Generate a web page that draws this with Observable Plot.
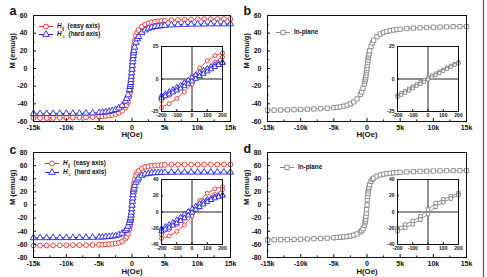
<!DOCTYPE html>
<html><head><meta charset="utf-8">
<script src="https://cdn.jsdelivr.net/npm/d3@7"></script>
<script src="https://cdn.jsdelivr.net/npm/@observablehq/plot@0.6"></script>
<style>
html,body{margin:0;padding:0;background:#fff;}
#fig{position:relative;width:487px;height:277px;overflow:hidden;background:#fff;font-family:"Liberation Sans",Arial,sans-serif;}
#fig svg{position:absolute;}
</style></head><body><div id="fig"></div>
<script>
// ---- Field grid for the full loops (Oe) ----
const H_main = [-15000,-14000,-13000,-12000,-11000,-10000,-9000,-8000,-7000,-6000,
  -5000,-4500,-4000,-3500,-3000,-2500,-2000,-1500,-1000,
  -800,-600,-400,-300,-250,-200,-150,-100,-50,0,50,100,150,200,250,300,400,600,800,
  1000,1500,2000,2500,3000,3500,4000,4500,5000,
  6000,7000,8000,9000,10000,11000,12000,13000,14000,15000];

// ---- Magnetization (emu/g) along H_main ----
const M_a_easy = [-56,-56,-56,-56,-55.8,-55.8,-55.6,-55.5,-55.3,-55,
  -54.5,-54.2,-53.8,-53.3,-52.6,-51.6,-50.2,-48,-44,
  -41.5,-38,-32,-28,-25,-21.5,-17,-12,-6.5,-1,5,10.5,15.5,19.5,23,26.5,31.5,37.5,41,
  43.5,47.5,49.8,51.2,52.2,52.9,53.4,53.8,54.2,
  54.7,55,55.3,55.5,55.7,55.8,55.9,56,56,56];
const M_a_hard = [-51.2,-51.2,-51.1,-51.1,-51,-51,-50.9,-50.8,-50.6,-50.4,
  -50,-49.6,-49.2,-48.6,-47.8,-46.6,-44.8,-42,-37,
  -34,-30,-24,-20.5,-18.5,-16,-12.5,-9,-5,-1,3.5,7.5,11,14.5,17.5,20,24,29.5,33.5,
  36,40.5,43.5,45.3,46.5,47.3,47.9,48.3,48.7,
  49.2,49.5,49.8,50,50.1,50.2,50.3,50.4,50.4,50.5];
const M_b_plane = [-47.3,-47.2,-47,-46.8,-46.6,-46.4,-46.1,-45.8,-45.4,-45,
  -44.4,-44,-43.4,-42.6,-41.5,-40,-37.8,-34.5,-29.5,
  -26.5,-22.5,-17.5,-14.5,-12.5,-10.5,-8,-5,-2.5,0,3.3,6.5,9.5,12.5,14.5,16.5,20,25,29,
  32,36,39,40.8,42,42.9,43.6,44.1,44.5,
  45.2,45.7,46.1,46.4,46.7,46.9,47.1,47.3,47.4,47.5];
const M_c_easy = [-61.8,-61.8,-61.7,-61.6,-61.5,-61.4,-61.3,-61.2,-61.1,-61,
  -60.6,-60.3,-60,-59.6,-59.2,-58.5,-57.5,-55.5,-51.5,
  -48.5,-44,-37,-32,-29,-25.5,-21,-15.5,-9,-2,6,13,19.5,25,29,33,38.5,45,49,
  52,56,58,59,59.7,60.2,60.6,60.9,61.1,
  61.4,61.5,61.6,61.6,61.7,61.7,61.8,61.8,61.8,61.8];
const M_c_hard = [-50,-50,-50,-49.9,-49.9,-49.8,-49.8,-49.7,-49.6,-49.5,
  -49.2,-48.9,-48.6,-48.2,-47.6,-46.8,-45.5,-43.2,-39,
  -36.5,-32.5,-27,-23.5,-21.5,-19,-15.5,-11,-6,-0.5,5.5,10.5,15.5,20,23,25.5,29.5,34.5,38,
  41,45,47,48,48.6,49,49.3,49.5,49.6,
  49.7,49.8,49.8,49.9,49.9,50,50,50,50,50];
const M_d_plane = [-53.2,-53,-52.8,-52.6,-52.4,-52.1,-51.8,-51.4,-51,-50.5,
  -49.9,-49.5,-49.1,-48.6,-48,-47.2,-46,-44.2,-41,
  -39,-36,-31,-27,-24.5,-21.5,-17.5,-12.5,-7,0,8,13,17.5,21.5,24.5,27,31,36,39,
  41,44,45.8,47,47.9,48.5,49,49.4,49.8,
  50.4,50.8,51.2,51.5,51.8,52,52.2,52.3,52.4,52.5];

// ---- Low-field loops (insets), both branches listed in rising-H order ----
const H_in50 = [-200,-150,-100,-50,0,50,100,150,200];
const H_in25 = [-200,-175,-150,-125,-100,-75,-50,-25,0,25,50,75,100,125,150,175,200];
const Ma_easy_dn = [-16.5,-12.5,-8,-3,2.5,8.5,14,18,20];
const Ma_easy_up = [-22,-19,-15,-10,-4,2.5,8,13,17];
const Ma_hard_dn = [-13,-11.5,-9.8,-8.2,-6.5,-4.8,-3,-1,1,3,4.8,6.5,8,9.5,10.8,12,13];
const Ma_hard_up = [-14.5,-13.2,-11.8,-10.3,-8.8,-7.2,-5.5,-3.7,-1.8,0.2,2.2,4,5.8,7.5,9.2,10.8,12.3];
const Mb_dn = [-12.5,-10.8,-9.1,-7.4,-5.7,-4,-2.3,-0.6,1,2.6,4.2,5.8,7.3,8.8,10.2,11.5,12.8];
const Mb_up = [-13.8,-12.2,-10.6,-8.9,-7.2,-5.5,-3.8,-2.1,-0.4,1.2,2.9,4.6,6.2,7.8,9.4,10.9,12.3];
const Mc_easy_dn = [-28,-21.5,-15,-7.5,3,14,23,28.5,31];
const Mc_easy_up = [-32.5,-29.5,-24,-16,-5,6,15,21.5,27.5];
const Mc_hard_dn = [-20.5,-18.2,-15.6,-12.8,-9.8,-6.5,-3,0.5,4,7.2,10.2,12.8,15,16.8,18.4,19.8,21];
const Mc_hard_up = [-23.5,-21.5,-19.2,-16.6,-13.8,-10.8,-7.6,-4.2,-0.8,2.8,6.2,9.4,12.2,14.8,16.9,18.7,20.2];
const Md_dn = [-20,-15.5,-11,-5.5,3,11,15.5,19.5,23];
const Md_up = [-23.5,-19.5,-15,-9.5,-2.5,6.5,12,16.5,21];

// ---- Ticks and labels ----
const xTicks = [-15000,-10000,-5000,0,5000,10000,15000];
const xTickLabels = ["-15k","-10k","-5k","0","5k","10k","15k"];
const xMinor = [-12500,-7500,-2500,2500,7500,12500];
const yTicks60 = [-60,-40,-20,0,20,40,60];
const yMinor60 = [-50,-30,-10,10,30,50];
const yTicks80 = [-80,-60,-40,-20,0,20,40,60,80];
const yMinor80 = [-70,-50,-30,-10,10,30,50,70];
const inXTicks = [-200,-100,0,100,200];
const inYTicks25 = [-25,0,25];
const inYTicks40 = [-40,-20,0,20,40];
const panelLetters = ["a","b","c","d"];
const xLabel = "H(Oe)";
const yLabel = "M (emu/g)";

const RED = "#ee2f2f", BLUE = "#2323e6", GRAY = "#858585";
const fig = document.getElementById("fig");
const rows = (H, M) => H.map((h, i) => ({H: h, M: M[i]}));
const num = d => String(d);

function seriesMarks(data, color, symbol, r) {
  return [
    Plot.line(data, {x: "H", y: "M", stroke: color, strokeWidth: 0.9}),
    Plot.dot(data, {x: "H", y: "M", symbol, r, stroke: color, strokeWidth: 0.9, fill: "white"})
  ];
}

function place(svg, left, top) {
  svg.style.left = left + "px";
  svg.style.top = top + "px";
  fig.appendChild(svg);
}

function mainPanel({left, top, width, height, mL, mR, mT, mB, yDomain, yT, yM, series, letter, letterDy, tickPad, labelDy}) {
  const svg = Plot.plot({
    width, height, marginLeft: mL, marginRight: mR, marginTop: mT, marginBottom: mB,
    x: {domain: [-15000, 15000]},
    y: {domain: yDomain},
    style: {background: "transparent", fontFamily: "'Liberation Sans', Arial, sans-serif", fontWeight: "bold", fontSize: "7px", color: "#111", overflow: "visible"},
    marks: [
      ...series.flatMap(s => seriesMarks(rows(H_main, s.M), s.color, s.symbol, 2.4)),
      Plot.frame({stroke: "#111", strokeWidth: 1}),
      Plot.axisX(xTicks, {tickSize: -3, tickPadding: tickPad, tickFormat: d => xTickLabels[xTicks.indexOf(d)], label: null}),
      Plot.axisX(xMinor, {tickSize: -1.6, tickFormat: () => "", label: null}),
      Plot.axisY(yT, {tickSize: -3, tickPadding: 9, tickFormat: num, label: null}),
      Plot.axisY(yM, {tickSize: -1.6, tickFormat: () => "", label: null}),
      Plot.text([yLabel], {frameAnchor: "left", dx: -21, rotate: -90, text: d => d, fontSize: 7.5, fontWeight: "bold"}),
      Plot.text([xLabel], {frameAnchor: "bottom", dy: labelDy, text: d => d, fontSize: 7.8, fontWeight: "bold"}),
      Plot.text([letter], {frameAnchor: "top-left", dx: -24, dy: letterDy, textAnchor: "start", lineAnchor: "bottom", text: d => d, fontSize: 12.5, fontWeight: "bold"})
    ]
  });
  place(svg, left, top);
}

function insetPanel({left, top, yDomain, yT, loops}) {
  const svg = Plot.plot({
    width: 92, height: 84, marginLeft: 21, marginRight: 10, marginTop: 8, marginBottom: 11,
    x: {domain: [-200, 200]},
    y: {domain: yDomain},
    style: {background: "transparent", fontFamily: "'Liberation Sans', Arial, sans-serif", fontWeight: "bold", fontSize: "5px", color: "#111", overflow: "visible"},
    marks: [
      Plot.frame({fill: "white"}),
      Plot.ruleX([0], {stroke: "#222", strokeWidth: 1}),
      Plot.ruleY([0], {stroke: "#222", strokeWidth: 1}),
      ...loops.flatMap(l => seriesMarks(rows(l.H, l.M), l.color, l.symbol, l.r)),
      Plot.frame({stroke: "#111", strokeWidth: 1}),
      Plot.axisX(inXTicks, {tickSize: -2, tickPadding: 4, tickFormat: num, label: null}),
      Plot.axisY(yT, {tickSize: -2, tickPadding: 5, tickFormat: num, label: null})
    ]
  });
  place(svg, left, top);
}

// Panel a / c: easy (∥) vs hard (⊥) axis; b / d: in-plane
mainPanel({left: 0, top: 0, width: 243, height: 138, mL: 33, mR: 13, mT: 15, mB: 17,
  yDomain: [-60, 60], yT: yTicks60, yM: yMinor60, letter: panelLetters[0], letterDy: -1, tickPad: 6.3, labelDy: 15.5,
  series: [{M: M_a_easy, color: RED, symbol: "circle"}, {M: M_a_hard, color: BLUE, symbol: "triangle"}]});
mainPanel({left: 243, top: 0, width: 244, height: 138, mL: 24, mR: 21, mT: 15, mB: 17,
  yDomain: [-60, 60], yT: yTicks60, yM: yMinor60, letter: panelLetters[1], letterDy: -1, tickPad: 6.3, labelDy: 15.5,
  series: [{M: M_b_plane, color: GRAY, symbol: "square"}]});
mainPanel({left: 0, top: 138, width: 243, height: 139, mL: 33, mR: 13, mT: 14, mB: 20,
  yDomain: [-80, 80], yT: yTicks80, yM: yMinor80, letter: panelLetters[2], letterDy: 1, tickPad: 6.8, labelDy: 16.5,
  series: [{M: M_c_easy, color: RED, symbol: "circle"}, {M: M_c_hard, color: BLUE, symbol: "triangle"}]});
mainPanel({left: 243, top: 138, width: 244, height: 139, mL: 24, mR: 21, mT: 14, mB: 20,
  yDomain: [-80, 80], yT: yTicks80, yM: yMinor80, letter: panelLetters[3], letterDy: 0, tickPad: 6.8, labelDy: 16.5,
  series: [{M: M_d_plane, color: GRAY, symbol: "square"}]});

insetPanel({left: 140, top: 38, yDomain: [-25, 25], yT: inYTicks25, loops: [
  {H: H_in50, M: Ma_easy_dn, color: RED, symbol: "circle", r: 2},
  {H: H_in50, M: Ma_easy_up, color: RED, symbol: "circle", r: 2},
  {H: H_in25, M: Ma_hard_dn, color: BLUE, symbol: "triangle", r: 2},
  {H: H_in25, M: Ma_hard_up, color: BLUE, symbol: "triangle", r: 2}]});
insetPanel({left: 376, top: 38, yDomain: [-25, 25], yT: inYTicks25, loops: [
  {H: H_in25, M: Mb_dn, color: GRAY, symbol: "square", r: 1.7},
  {H: H_in25, M: Mb_up, color: GRAY, symbol: "square", r: 1.7}]});
insetPanel({left: 140, top: 171, yDomain: [-40, 40], yT: inYTicks40, loops: [
  {H: H_in50, M: Mc_easy_dn, color: RED, symbol: "circle", r: 2},
  {H: H_in50, M: Mc_easy_up, color: RED, symbol: "circle", r: 2},
  {H: H_in25, M: Mc_hard_dn, color: BLUE, symbol: "triangle", r: 2},
  {H: H_in25, M: Mc_hard_up, color: BLUE, symbol: "triangle", r: 2}]});
insetPanel({left: 376, top: 171, yDomain: [-40, 40], yT: inYTicks40, loops: [
  {H: H_in50, M: Md_dn, color: GRAY, symbol: "square", r: 2},
  {H: H_in50, M: Md_up, color: GRAY, symbol: "square", r: 2}]});

// Legends and the figure border, drawn in an overlay
const legendEntries = [
  {x: 39, y: 26, color: RED, shape: "circle", main: "H", sub: "∥", rest: "(easy axis)"},
  {x: 39, y: 34, color: BLUE, shape: "triangle", main: "H", sub: "⊥", rest: "(hard axis)"},
  {x: 276, y: 32, color: GRAY, shape: "square", main: "", sub: "", rest: "In-plane"},
  {x: 45, y: 163, color: RED, shape: "circle", main: "H", sub: "∥", rest: "(easy axis)"},
  {x: 45, y: 172, color: BLUE, shape: "triangle", main: "H", sub: "⊥", rest: "(hard axis)"},
  {x: 280, y: 167, color: GRAY, shape: "square", main: "", sub: "", rest: "In-plane"}
];
const ov = d3.select(fig).append("svg").attr("width", 487).attr("height", 277)
  .style("left", "0px").style("top", "0px").style("pointer-events", "none");
const symbols = {circle: d3.symbolCircle, triangle: d3.symbolTriangle, square: d3.symbolSquare};
for (const e of legendEntries) {
  const g = ov.append("g");
  g.append("line").attr("x1", e.x).attr("x2", e.x + 14).attr("y1", e.y + 0.5).attr("y2", e.y + 0.5)
    .attr("stroke", e.color).attr("stroke-width", 1);
  g.append("path").attr("d", d3.symbol(symbols[e.shape], 19)())
    .attr("transform", `translate(${e.x + 7},${e.y + 0.5})`)
    .attr("fill", "white").attr("stroke", e.color).attr("stroke-width", 0.9);
  const t = g.append("text").attr("x", e.x + 18).attr("y", e.y + 2.4)
    .attr("font-size", 6.3).attr("font-weight", "bold").attr("fill", "#111")
    .attr("font-family", "'Liberation Sans', Arial, sans-serif");
  if (e.main) {
    t.append("tspan").attr("font-style", "italic").text(e.main);
    t.append("tspan").attr("font-size", 4.2).attr("dy", 1.5).text(e.sub);
    t.append("tspan").attr("dy", -1.5).attr("dx", 4).text(e.rest);
  } else {
    t.text(e.rest);
  }
}
ov.append("line").attr("x1", 483.5).attr("x2", 483.5).attr("y1", 0).attr("y2", 277)
  .attr("stroke", "#555").attr("stroke-width", 1.2);
</script>
</body></html>
